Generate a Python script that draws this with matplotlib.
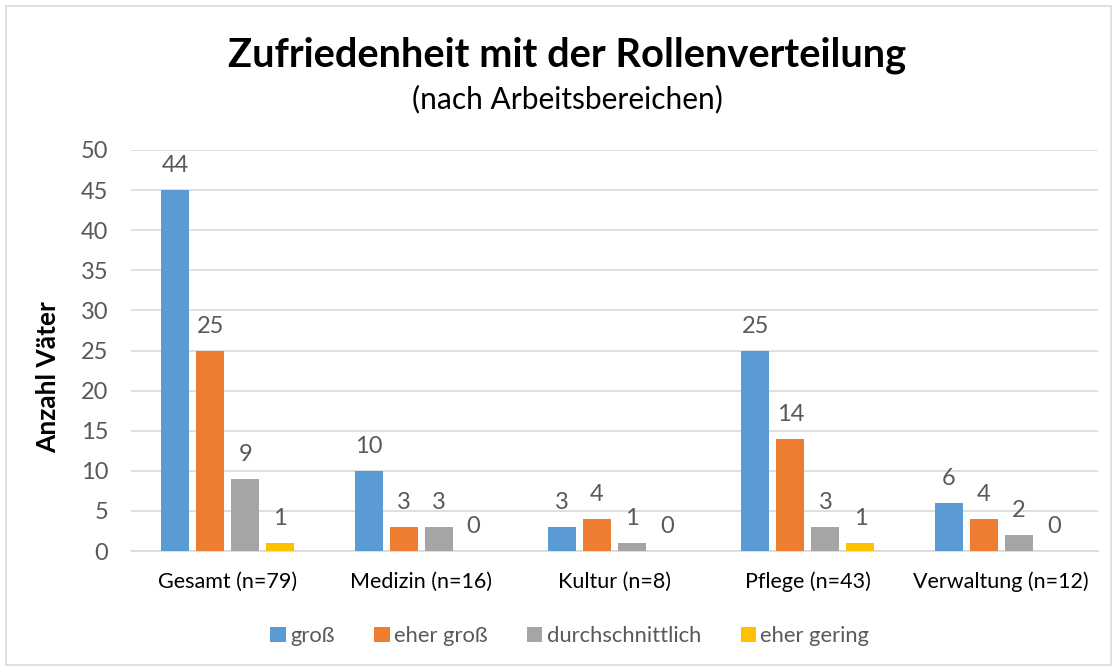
import matplotlib
matplotlib.use("Agg")
import matplotlib.pyplot as plt
import numpy as np
from matplotlib.patches import Rectangle

categories = ["Gesamt (n=79)", "Medizin (n=16)", "Kultur (n=8)", "Pflege (n=43)", "Verwaltung (n=12)"]
series_names = ["groß", "eher groß", "durchschnittlich", "eher gering"]
gross = [45, 10, 3, 25, 6]
eher_gross = [25, 3, 4, 14, 4]
durchschnittlich = [9, 3, 1, 3, 2]
eher_gering = [1, 0, 0, 1, 0]
# data labels as printed in the chart
label_gross = ["44", "10", "3", "25", "6"]
label_eher_gross = ["25", "3", "4", "14", "4"]
label_durchschnittlich = ["9", "3", "1", "3", "2"]
label_eher_gering = ["1", "0", "0", "1", "0"]
yticks = [0, 5, 10, 15, 20, 25, 30, 35, 40, 45, 50]

colors = ["#5B9BD5", "#ED7D31", "#A5A5A5", "#FFC000"]
FONT = ["Lato", "DejaVu Sans"]
plt.rcParams["font.family"] = FONT
TXT = "#595959"

fig = plt.figure(figsize=(11.17, 6.71), dpi=100)
W, H = 1117, 671
ax = fig.add_axes([131 / W, 1 - 551 / H, (1098 - 131) / W, (551 - 150) / H])

x = np.arange(len(categories))
series = [gross, eher_gross, durchschnittlich, eher_gering]
labels = [label_gross, label_eher_gross, label_durchschnittlich, label_eher_gering]
bw = 0.145
step = 0.181
for i, (vals, labs) in enumerate(zip(series, labels)):
    pos = x + (i - 1.5) * step
    ax.bar(pos, vals, width=bw, color=colors[i], label=series_names[i], zorder=3)
    for p, v, t in zip(pos, vals, labs):
        ax.annotate(t, (p, v), xytext=(0, 10), textcoords="offset points",
                    ha="center", va="bottom", fontsize=17, color=TXT)

ax.set_xlim(-0.5, len(categories) - 0.5)
ax.set_ylim(0, 50)
ax.set_yticks(yticks)
ax.set_xticks(x)
ax.set_xticklabels(categories, fontsize=15.5, color="#000000")
ax.tick_params(axis="y", labelsize=17, labelcolor=TXT, length=0, pad=16.5)
ax.tick_params(axis="x", length=0, pad=15)
ax.grid(axis="y", color="#D9D9D9", linewidth=1.2, zorder=0)
for s in ["top", "right", "left"]:
    ax.spines[s].set_visible(False)
ax.spines["bottom"].set_color("#D9D9D9")
ax.spines["bottom"].set_linewidth(1.2)

fig.text(48 / W, 1 - 377 / H, "Anzahl Väter", rotation=90, fontsize=19, fontweight="bold",
         ha="center", va="center", color="#000000")
fig.text(567 / W, 1 - 55 / H, "Zufriedenheit mit der Rollenverteilung", fontsize=28.7,
         fontweight="bold", ha="center", va="center", color="#000000")
fig.text(567 / W, 1 - 99 / H, "(nach Arbeitsbereichen)", fontsize=21.5,
         ha="center", va="center", color="#000000")

fig.legend(loc="center", bbox_to_anchor=(570 / W, 1 - 636 / H), ncol=4, frameon=False,
           fontsize=15.8, handlelength=0.7, handleheight=0.7, handletextpad=0.2,
           columnspacing=1.8, labelcolor=TXT)

fig.patches.append(Rectangle((6 / W, 6 / H), (1111 - 6) / W, (665 - 6) / H,
                             transform=fig.transFigure, fill=False, edgecolor="#D9D9D9",
                             linewidth=1.2))

fig.savefig("out.png", dpi=100)
